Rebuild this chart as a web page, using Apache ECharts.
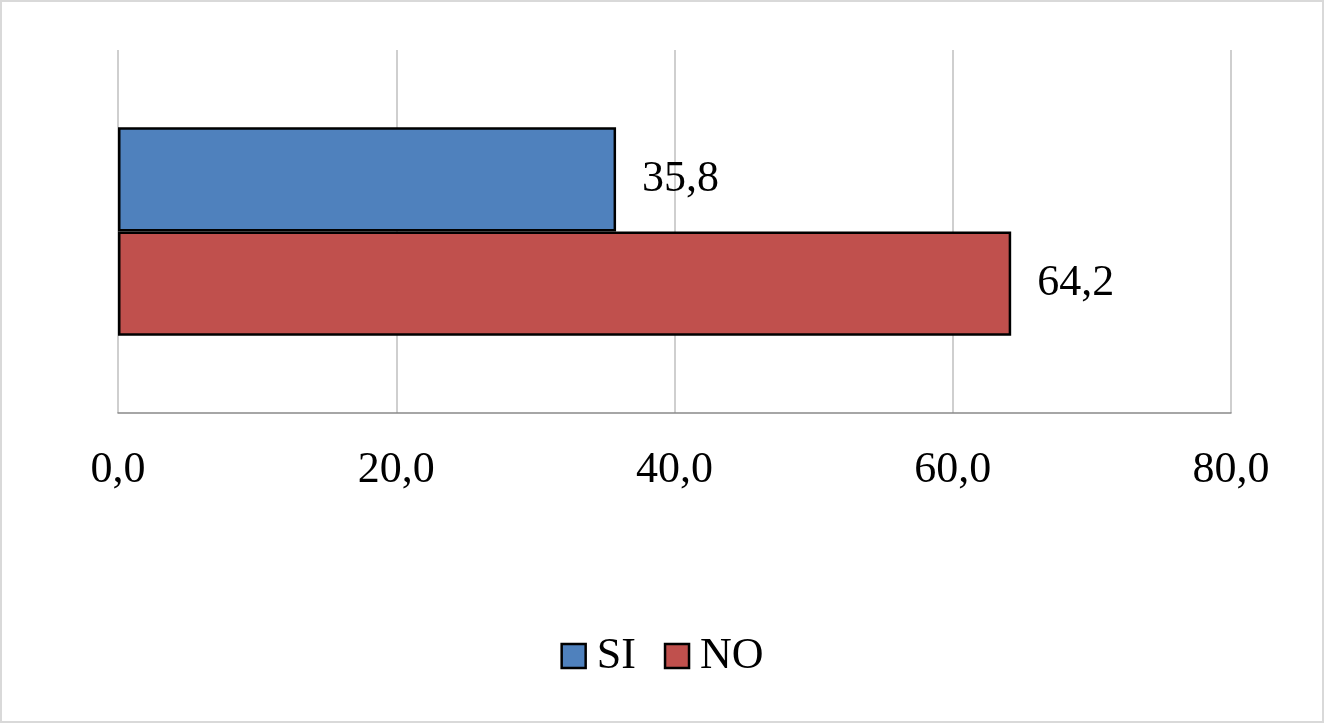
<!DOCTYPE html>
<html>
<head>
<meta charset="utf-8">
<script src="https://cdn.jsdelivr.net/npm/echarts@6/dist/echarts.min.js"></script>
<style>
  html, body { margin: 0; padding: 0; background: #fff; }
  #chart { position: absolute; left: 0; top: 0; width: 1324px; height: 723px; }
  #frame {
    position: absolute; left: 0; top: 0; width: 1324px; height: 723px;
    box-sizing: border-box; border: 2px solid #d9d9d9; pointer-events: none;
  }
</style>
</head>
<body>
<div id="chart"></div>
<div id="frame"></div>
<script>
const categories = ['']
const seriesNames = ['SI', 'NO']
const siValues = [35.8]
const noValues = [64.2]
const xTicks = { min: 0, max: 80, interval: 20 }

const serif = "'Liberation Serif', 'Times New Roman', serif"
const fmt = (v) => Number(v).toFixed(1).replace('.', ',')

const chart = echarts.init(document.getElementById('chart'))

const barSeries = (name, data, color) => ({
  name: name,
  type: 'bar',
  data: data,
  barGap: '0%',
  barCategoryGap: '42.5%',
  itemStyle: { color: color, borderColor: '#000', borderWidth: 2.5 },
  label: {
    show: true,
    position: 'right',
    distance: 26,
    color: '#000',
    fontFamily: serif,
    fontSize: 44,
    formatter: (p) => fmt(p.value),
  },
})

const option = {
  animation: false,
  grid: { left: 118, right: 93, top: 50, bottom: 310, containLabel: false },
  legend: {
    data: seriesNames,
    bottom: 40,
    left: 'center',
    itemWidth: 24,
    itemHeight: 24,
    itemGap: 28,
    icon: 'rect',
    itemStyle: { borderColor: '#000', borderWidth: 2.5 },
    textStyle: { fontFamily: serif, fontSize: 44, color: '#000', padding: [0, 0, 0, 6] },
  },
  xAxis: {
    type: 'value',
    min: xTicks.min,
    max: xTicks.max,
    interval: xTicks.interval,
    axisLine: { show: true, lineStyle: { color: '#898989', width: 1.5 } },
    axisTick: { show: false },
    axisLabel: {
      margin: 35,
      color: '#000',
      fontFamily: serif,
      fontSize: 44,
      formatter: (v) => fmt(v),
    },
    splitLine: { show: true, lineStyle: { color: '#bfbfbf', width: 1.5 } },
  },
  yAxis: {
    type: 'category',
    data: categories,
    inverse: true,
    axisLine: { show: false },
    axisTick: { show: false },
    axisLabel: { show: false },
  },
  series: [
    barSeries('SI', siValues, '#4f81bd'),
    barSeries('NO', noValues, '#c0504d'),
  ],
}

chart.setOption(option)
</script>
</body>
</html>
